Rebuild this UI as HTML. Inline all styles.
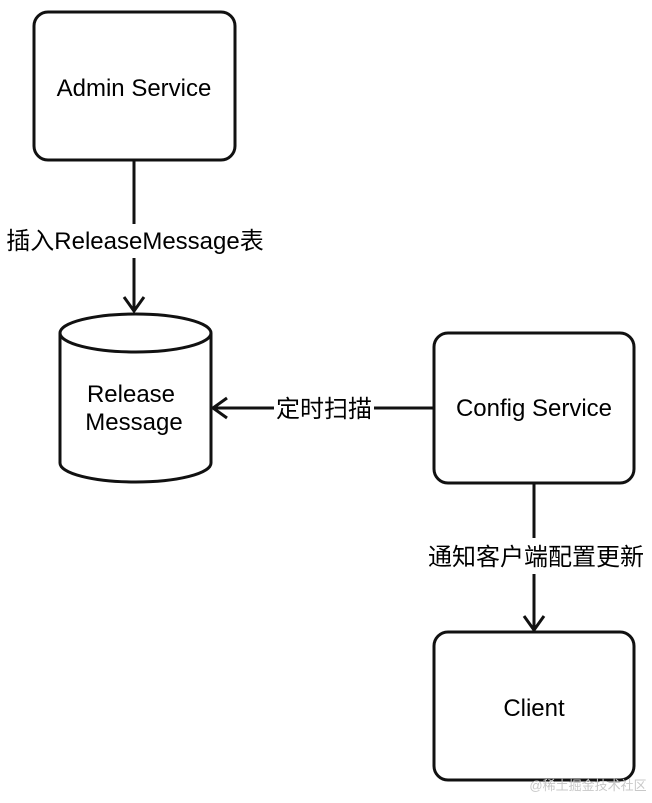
<!DOCTYPE html>
<html><head><meta charset="utf-8"><style>
html,body{margin:0;padding:0;background:#fff;}
svg text{font-family:"Liberation Sans","Noto Sans CJK SC",sans-serif;fill:#000;}
</style></head><body>
<svg width="652" height="798" viewBox="0 0 652 798" xmlns="http://www.w3.org/2000/svg">
<g fill="#fff" stroke="#111" stroke-width="3">
<rect x="34" y="12" width="201" height="148" rx="14"/>
<rect x="434" y="333" width="200" height="150" rx="14"/>
<rect x="434" y="632" width="200" height="148" rx="14"/>
<path d="M60 333 L60 463 A75.5 19 0 0 0 211 463 L211 333"/>
<ellipse cx="135.5" cy="333" rx="75.5" ry="19"/>
</g>
<g stroke="#111" stroke-width="3" fill="none">
<line x1="134" y1="160" x2="134" y2="224"/>
<line x1="134" y1="258" x2="134" y2="310"/>
<path d="M124 297 L134 311 L144 297"/>
<line x1="434" y1="408" x2="374" y2="408"/>
<line x1="274" y1="408" x2="214" y2="408"/>
<path d="M227 398 L213 408 L227 418"/>
<line x1="534" y1="483" x2="534" y2="538"/>
<line x1="534" y1="574" x2="534" y2="630"/>
<path d="M524 616 L534 630 L544 616"/>
</g>
<g font-size="24" text-anchor="middle">
<text x="134" y="96">Admin Service</text>
<text x="135" y="249">插入ReleaseMessage表</text>
<text x="131" y="402">Release</text>
<text x="134" y="430">Message</text>
<text x="324" y="417">定时扫描</text>
<text x="534" y="416">Config Service</text>
<text x="536" y="565">通知客户端配置更新</text>
<text x="534" y="716">Client</text>
</g>
<text x="588" y="790" font-size="13" text-anchor="middle" style="fill:#c8c8c8">@稀土掘金技术社区</text>
</svg>
</body></html>
